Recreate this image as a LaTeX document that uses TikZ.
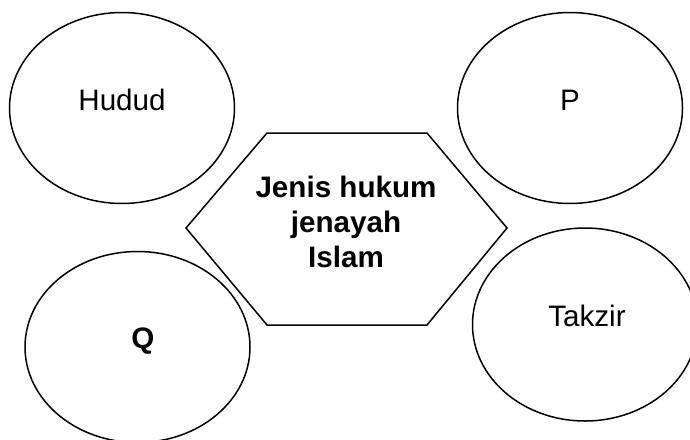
\documentclass[tikz,border=0pt]{standalone}
\usepackage{fontspec}
\setmainfont{Liberation Sans}
\usetikzlibrary{shapes.geometric}
\begin{document}
\begin{tikzpicture}[x=0.5pt,y=-0.5pt,
		bulatan/.style={draw,ellipse,line width=0.75pt,inner sep=0pt,minimum width=112.5pt,minimum height=95.5pt},
		teks/.style={font=\fontsize{14.8}{17.5}\selectfont},
		tebal/.style={font=\fontsize{14.8}{17.5}\selectfont\bfseries,align=center}]
				\clip (0,0) rectangle (690,439);
				\node[bulatan] (hudud) at (122,108) {};
				\node[bulatan] (p) at (570,108) {};
				\node[bulatan] (q) at (137.5,347) {};
				\node[bulatan,minimum height=96.5pt] (takzir) at (585,324.5) {};
				\node[teks] (tHudud) at (122,100) {Hudud};
				\node[teks] (tP) at (570,100) {P};
				\node[tebal] (tQ) at (143,341) {Q};
				\node[teks] (tTakzir) at (587,315.5) {Takzir};
				\draw[line width=0.75pt] (186,228)--(267,133)--(427,133)--(507,228)--(427,325)--(267,325)--cycle;
				\node[tebal] (jenis) at (346,222) {Jenis hukum\\jenayah\\Islam};
			\end{tikzpicture}
\end{document}
